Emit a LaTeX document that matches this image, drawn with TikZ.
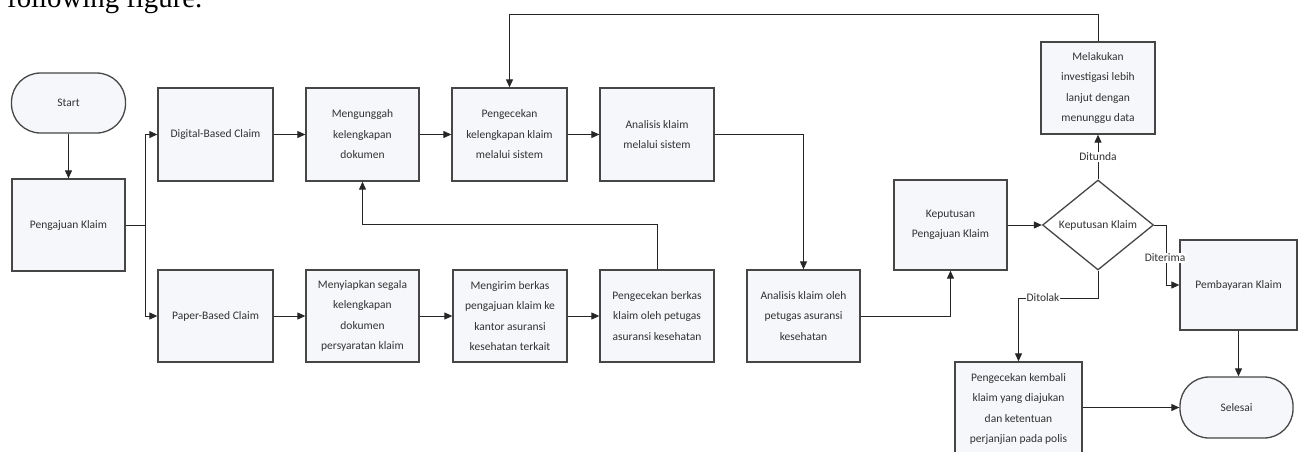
\documentclass[tikz,border=0pt]{standalone}
\usepackage{fontspec}
\setmainfont{Carlito}
\newfontfamily\timesfont{Liberation Serif}
\usetikzlibrary{shapes.geometric,arrows.meta,calc}
\definecolor{boxfill}{RGB}{246,247,250}
\definecolor{boxline}{RGB}{70,70,70}
\definecolor{txt}{RGB}{50,50,50}
\tikzset{
  proc/.style={draw=boxline, line width=1.3pt, fill=boxfill, rectangle, inner sep=2pt,
     align=center, text=txt, font=\fontsize{11.5}{20.5}\selectfont},
  term/.style={proc, rounded corners=29pt},
  arr/.style={draw=black!85, line width=1pt, -{Triangle[length=8pt,width=7pt]}},
  lbl/.style={fill=white, inner sep=1pt, text=txt, font=\fontsize{11.5}{13}\selectfont}
}
\begin{document}
\begin{tikzpicture}[x=1pt,y=-1pt]
\useasboundingbox (0,0) rectangle (1298,451);
\begin{scope}
\clip (0,0) rectangle (1298,451);
\node[anchor=base west, inner sep=0, font=\timesfont\fontsize{28.8}{30}\selectfont] (cap) at (7,7) {following figure.};

\node[term, minimum width=114pt, minimum height=60pt] (start) at (68.5,103) {Start};
\node[proc, minimum width=113pt, minimum height=92pt] (peng) at (68.5,225) {Pengajuan Klaim};

\node[proc, minimum width=115pt, minimum height=93pt] (digital) at (215.5,134.5) {Digital-Based Claim};
\node[proc, minimum width=113pt, minimum height=93pt] (unggah) at (362.5,134.5) {Mengunggah\\kelengkapan\\dokumen};
\node[proc, minimum width=115pt, minimum height=93pt] (cek1) at (509.5,134.5) {Pengecekan\\kelengkapan klaim\\melalui sistem};
\node[proc, minimum width=114pt, minimum height=93pt] (anal1) at (657,134.5) {Analisis klaim\\melalui sistem};

\node[proc, minimum width=115pt, minimum height=92pt] (paper) at (215.5,316) {Paper-Based Claim};
\node[proc, minimum width=113pt, minimum height=92pt] (siap) at (362.5,316) {Menyiapkan segala\\kelengkapan\\dokumen\\persyaratan klaim};
\node[proc, minimum width=114pt, minimum height=92pt] (kirim) at (510,316) {Mengirim berkas\\pengajuan klaim ke\\kantor asuransi\\kesehatan terkait};
\node[proc, minimum width=114pt, minimum height=92pt] (cek2) at (657,316) {Pengecekan berkas\\klaim oleh petugas\\asuransi kesehatan};
\node[proc, minimum width=113pt, minimum height=92pt] (anal2) at (803.5,316) {Analisis klaim oleh\\petugas asuransi\\kesehatan};

\node[proc, minimum width=113pt, minimum height=90pt] (kep) at (950.5,225) {Keputusan\\Pengajuan Klaim};
\node[draw=boxline, line width=1.3pt, fill=white, diamond, minimum width=111pt, minimum height=90pt, inner sep=0pt] (dia) at (1098,225) {};
\node[text=txt, font=\fontsize{11.5}{13}\selectfont, inner sep=0pt] (dialbl) at (dia.center) {Keputusan Klaim};

\node[proc, minimum width=114pt, minimum height=92pt] (inv) at (1098,88) {Melakukan\\investigasi lebih\\lanjut dengan\\menunggu data};
\node[proc, minimum width=117pt, minimum height=90pt] (bayar) at (1238.5,285) {Pembayaran Klaim};
\node[term, minimum width=113pt, minimum height=61pt] (selesai) at (1236.5,407.5) {Selesai};
\node[proc, minimum width=127pt, minimum height=94pt] (kembali) at (1018.5,409) {Pengecekan kembali\\klaim yang diajukan\\dan ketentuan\\perjanjian pada polis};

% connectors
\draw[arr] (start.south) -- (peng.north);
\draw[arr] (peng.east) -- ++(20,0) |- (digital.west);
\draw[arr] (peng.east) -- ++(20,0) |- (paper.west);
\draw[arr] (digital) -- (unggah);
\draw[arr] (unggah) -- (cek1);
\draw[arr] (cek1) -- (anal1);
\draw[arr] (paper) -- (siap);
\draw[arr] (siap) -- (kirim);
\draw[arr] (kirim) -- (cek2);
\draw[arr] (cek2.north) -- ++(0,-45) -| (unggah.south);
\draw[arr] (inv.north) -- ++(0,-27) -| (cek1.north);
\draw[arr] (anal1.east) -| (anal2.north);
\draw[arr] (anal2.east) -| (kep.south);
\draw[arr] (kep.east) -- (dia.west);
\draw[arr] (dia.north) -- node[lbl, pos=0.5] {Ditunda} (inv.south);
\draw[arr] (dia.east) -- ++(12,0) |- (bayar.west);
\node[lbl] (lblter) at (1165,258) {Diterima};
\draw[arr] (dia.south) -- ++(0,28) -| (kembali.north);
\node[lbl] (lbltol) at (1043,298) {Ditolak};
\draw[arr] (bayar.south) -- (bayar.south |- selesai.north);
\draw[arr] (kembali.east |- selesai.west) -- (selesai.west);
\end{scope}
\end{tikzpicture}
\end{document}
